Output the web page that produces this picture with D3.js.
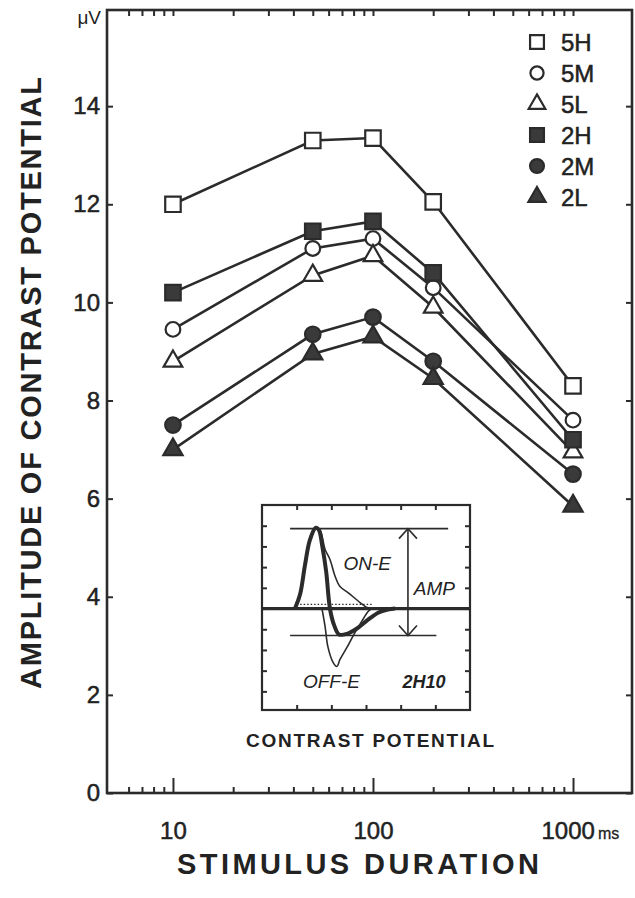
<!DOCTYPE html>
<html>
<head>
<meta charset="utf-8">
<script src="https://cdn.jsdelivr.net/npm/d3@7"></script>
<style>
  body { margin: 0; background: #fff; }
  svg { display: block; }
  text { font-family: "Liberation Sans", Arial, sans-serif; fill: #222; }
</style>
</head>
<body>
<div id="field"></div>
<script>
'use strict';

// stimulus durations (ms) and amplitudes (µV) per condition
const durations = [10, 50, 100, 200, 1000];
const seriesNames = ['5H', '5M', '5L', '2H', '2M', '2L'];
const amp5H = [12.0, 13.3, 13.35, 12.05, 8.3];
const amp5M = [9.45, 11.1, 11.3, 10.3, 7.6];
const amp5L = [8.8, 10.55, 10.95, 9.9, 6.95];
const amp2H = [10.2, 11.45, 11.65, 10.6, 7.2];
const amp2M = [7.5, 9.35, 9.7, 8.8, 6.5];
const amp2L = [7.0, 8.95, 9.3, 8.45, 5.85];

const yTicks = [0, 2, 4, 6, 8, 10, 12, 14];
const xMajor = [10, 100, 1000];
const xMinor = [6, 7, 8, 9, 20, 30, 40, 50, 60, 70, 80, 90, 200, 300, 400, 500, 600, 700, 800, 900];

// inset: schematic contrast potential (time units, amplitude units)
const insetSum = [[0.95, 0], [1.1, 0.7], [1.24, 2.1], [1.38, 3.3], [1.55, 3.9], [1.64, 3.8], [1.74, 3.0],
  [1.85, 1.8], [1.96, 0], [2.08, -0.8], [2.22, -1.25], [2.45, -1.22], [2.75, -0.95], [3.05, -0.55],
  [3.35, -0.2], [3.63, -0.05], [3.84, 0]];
const insetOn = [[1.55, 3.9], [1.67, 3.8], [1.82, 2.85], [1.96, 2.37], [2.11, 1.55], [2.25, 1.06],
  [2.48, 0.77], [2.83, 0.29], [3.03, 0.05], [3.17, 0]];
const insetOff = [[1.73, 0], [1.82, -0.87], [1.9, -1.84], [2.05, -2.6], [2.16, -2.8], [2.25, -2.46],
  [2.45, -1.88], [2.68, -1.16], [2.91, -0.53], [3.06, -0.14], [3.17, 0]];
const insetPeak = 3.86, insetTrough = -1.3;
const insetTicksX = [1, 2, 3, 4, 5];
const insetTicksY = [-4, -3, -2, -1, 0, 1, 2, 3, 4];

const seriesData = [amp5H, amp5M, amp5L, amp2H, amp2M, amp2L];
const marks = {
  '5H': {shape: d3.symbolSquare, size: 240, fill: '#fff'},
  '5M': {shape: d3.symbolCircle, size: 170, fill: '#fff'},
  '5L': {shape: d3.symbolTriangle, size: 150, fill: '#fff'},
  '2H': {shape: d3.symbolSquare, size: 240, fill: '#3a3a3a'},
  '2M': {shape: d3.symbolCircle, size: 190, fill: '#3a3a3a'},
  '2L': {shape: d3.symbolTriangle, size: 160, fill: '#3a3a3a'}
};

const W = 635, H = 898;
const L = 107, R = 632, T = 10, B = 793;
const ink = '#2b2b2b';

const svg = d3.select('#field').append('svg').attr('width', W).attr('height', H);

const x = d3.scaleLog().domain([4.68, 1972]).range([L, R]);
const y = d3.scaleLinear().domain([0, 15.96]).range([B, T]);

function styleAxis(g) {
  g.select('.domain').remove();
  g.selectAll('line').attr('stroke', ink).attr('stroke-width', 2);
  g.selectAll('text').attr('fill', '#222').attr('font-family', '"Liberation Sans", Arial, sans-serif')
    .attr('stroke', '#222').attr('stroke-width', 0.5);
}

// bottom axis: minor + major ticks
svg.append('g').attr('transform', `translate(0,${B})`)
  .call(d3.axisBottom(x).tickValues(xMinor).tickSize(-6).tickFormat(''))
  .call(styleAxis);
const xAxisMajor = svg.append('g').attr('transform', `translate(0,${B})`)
  .call(d3.axisBottom(x).tickValues(xMajor).tickSize(-15).tickPadding(29).tickFormat(d3.format('d')))
  .call(styleAxis);
xAxisMajor.selectAll('text').attr('font-size', 24);
xAxisMajor.selectAll('text').filter(d => d === 1000)
  .attr('text-anchor', 'start').attr('x', -32)
  .append('tspan').attr('font-size', 16).attr('dx', 3).attr('stroke-width', 0.3).text('ms');

// top axis
svg.append('g').attr('transform', `translate(0,${T})`)
  .call(d3.axisTop(x).tickValues(xMinor.concat(xMajor)).tickSize(-6).tickFormat(''))
  .call(styleAxis);

// left + right axes
const yAxis = svg.append('g').attr('transform', `translate(${L},0)`)
  .call(d3.axisLeft(y).tickValues(yTicks).tickSize(-6).tickPadding(7))
  .call(styleAxis);
yAxis.selectAll('text').attr('font-size', 24);
svg.append('g').attr('transform', `translate(${R},0)`)
  .call(d3.axisRight(y).tickValues(yTicks).tickSize(-6).tickFormat(''))
  .call(styleAxis);

// frame
svg.append('rect').attr('x', L).attr('y', T).attr('width', R - L).attr('height', B - T)
  .attr('fill', 'none').attr('stroke', ink).attr('stroke-width', 2.6);

// series lines then markers
const line = d3.line().x((d, i) => x(durations[i])).y(d => y(d));
svg.append('g').selectAll('path').data(seriesData).enter().append('path')
  .attr('d', line).attr('fill', 'none').attr('stroke', ink).attr('stroke-width', 2.6);

seriesData.forEach(function(vals, k) {
  const m = marks[seriesNames[k]];
  svg.append('g').selectAll('path').data(vals).enter().append('path')
    .attr('d', d3.symbol().type(m.shape).size(m.size))
    .attr('transform', (d, i) => `translate(${x(durations[i])},${y(d)})`)
    .attr('fill', m.fill).attr('stroke', ink).attr('stroke-width', 2.2);
});

// legend
const legend = svg.append('g');
seriesNames.forEach(function(name, k) {
  const m = marks[name], ly = 42 + k * 31;
  legend.append('path').attr('d', d3.symbol().type(m.shape).size(m.size * 0.8))
    .attr('transform', `translate(537,${ly})`)
    .attr('fill', m.fill).attr('stroke', ink).attr('stroke-width', 2.2);
  legend.append('text').attr('x', 561).attr('y', ly + 8.5).attr('font-size', 24)
    .attr('stroke', '#222').attr('stroke-width', 0.5).text(name);
});

// units and titles
svg.append('text').attr('x', 101).attr('y', 24).attr('text-anchor', 'end').attr('font-size', 19).text('μV');
svg.append('text').attr('x', 358).attr('y', 874).attr('text-anchor', 'middle').attr('font-weight', 'bold')
  .attr('font-size', 29).attr('textLength', 362).attr('lengthAdjust', 'spacing').text('STIMULUS  DURATION');
svg.append('text').attr('transform', 'translate(41,383) rotate(-90)').attr('text-anchor', 'middle')
  .attr('font-weight', 'bold').attr('font-size', 29).attr('textLength', 612).attr('lengthAdjust', 'spacing')
  .text('AMPLITUDE  OF  CONTRAST  POTENTIAL');

// inset
const iL = 262, iR = 470, iT = 505, iB = 710;
const ix = d3.scaleLinear().domain([0, 6]).range([iL, iR]);
const iy = d3.scaleLinear().domain([-4.9, 5]).range([iB, iT]);
const inset = svg.append('g');
inset.append('rect').attr('x', iL).attr('y', iT).attr('width', iR - iL).attr('height', iB - iT)
  .attr('fill', '#fff').attr('stroke', ink).attr('stroke-width', 2.2);
inset.append('g').attr('transform', `translate(0,${iB})`)
  .call(d3.axisBottom(ix).tickValues(insetTicksX).tickSize(-5).tickFormat('')).call(styleAxis);
inset.append('g').attr('transform', `translate(0,${iT})`)
  .call(d3.axisTop(ix).tickValues(insetTicksX).tickSize(-5).tickFormat('')).call(styleAxis);
inset.append('g').attr('transform', `translate(${iL},0)`)
  .call(d3.axisLeft(iy).tickValues(insetTicksY).tickSize(-5).tickFormat('')).call(styleAxis);
inset.append('g').attr('transform', `translate(${iR},0)`)
  .call(d3.axisRight(iy).tickValues(insetTicksY).tickSize(-5).tickFormat('')).call(styleAxis);

// baseline + reference levels
inset.append('line').attr('x1', iL).attr('x2', iR).attr('y1', iy(0)).attr('y2', iy(0))
  .attr('stroke', ink).attr('stroke-width', 3.2);
inset.append('line').attr('x1', ix(0.81)).attr('x2', ix(5.37)).attr('y1', iy(insetPeak)).attr('y2', iy(insetPeak))
  .attr('stroke', ink).attr('stroke-width', 1.6);
inset.append('line').attr('x1', ix(0.81)).attr('x2', ix(5.03)).attr('y1', iy(insetTrough)).attr('y2', iy(insetTrough))
  .attr('stroke', ink).attr('stroke-width', 1.6);
inset.append('line').attr('x1', ix(1.1)).attr('x2', ix(3.2)).attr('y1', iy(0.2)).attr('y2', iy(0.2))
  .attr('stroke', ink).attr('stroke-width', 1.2).attr('stroke-dasharray', '1.5,2');

const iline = d3.line().x(d => ix(d[0])).y(d => iy(d[1])).curve(d3.curveCatmullRom);
inset.append('path').attr('d', iline(insetOn)).attr('fill', 'none').attr('stroke', ink).attr('stroke-width', 1.6);
inset.append('path').attr('d', iline(insetOff)).attr('fill', 'none').attr('stroke', ink).attr('stroke-width', 1.6);
inset.append('path').attr('d', iline(insetSum)).attr('fill', 'none').attr('stroke', ink).attr('stroke-width', 4);

// AMP double arrow
const ax = ix(4.21);
inset.append('line').attr('x1', ax).attr('x2', ax).attr('y1', iy(insetPeak)).attr('y2', iy(insetTrough))
  .attr('stroke', ink).attr('stroke-width', 1.6);
inset.append('path')
  .attr('d', `M${ax - 9},${iy(insetPeak) + 10}L${ax},${iy(insetPeak)}L${ax + 9},${iy(insetPeak) + 10}` +
             `M${ax - 9},${iy(insetTrough) - 10}L${ax},${iy(insetTrough)}L${ax + 9},${iy(insetTrough) - 10}`)
  .attr('fill', 'none').attr('stroke', ink).attr('stroke-width', 1.6);

inset.append('text').attr('x', ix(2.35)).attr('y', iy(1.85)).attr('font-size', 19).attr('font-style', 'italic').text('ON-E');
inset.append('text').attr('x', ix(4.38)).attr('y', iy(0.65)).attr('font-size', 19).attr('font-style', 'italic').text('AMP');
inset.append('text').attr('x', ix(1.18)).attr('y', iy(-3.85)).attr('font-size', 19).attr('font-style', 'italic').text('OFF-E');
inset.append('text').attr('x', ix(4.05)).attr('y', iy(-3.85)).attr('font-size', 18).attr('font-style', 'italic')
  .attr('font-weight', 'bold').text('2H10');
svg.append('text').attr('x', 370).attr('y', 747).attr('text-anchor', 'middle').attr('font-size', 19)
  .attr('font-weight', 'bold').attr('textLength', 248).attr('lengthAdjust', 'spacing').text('CONTRAST  POTENTIAL');
</script>
</body>
</html>
